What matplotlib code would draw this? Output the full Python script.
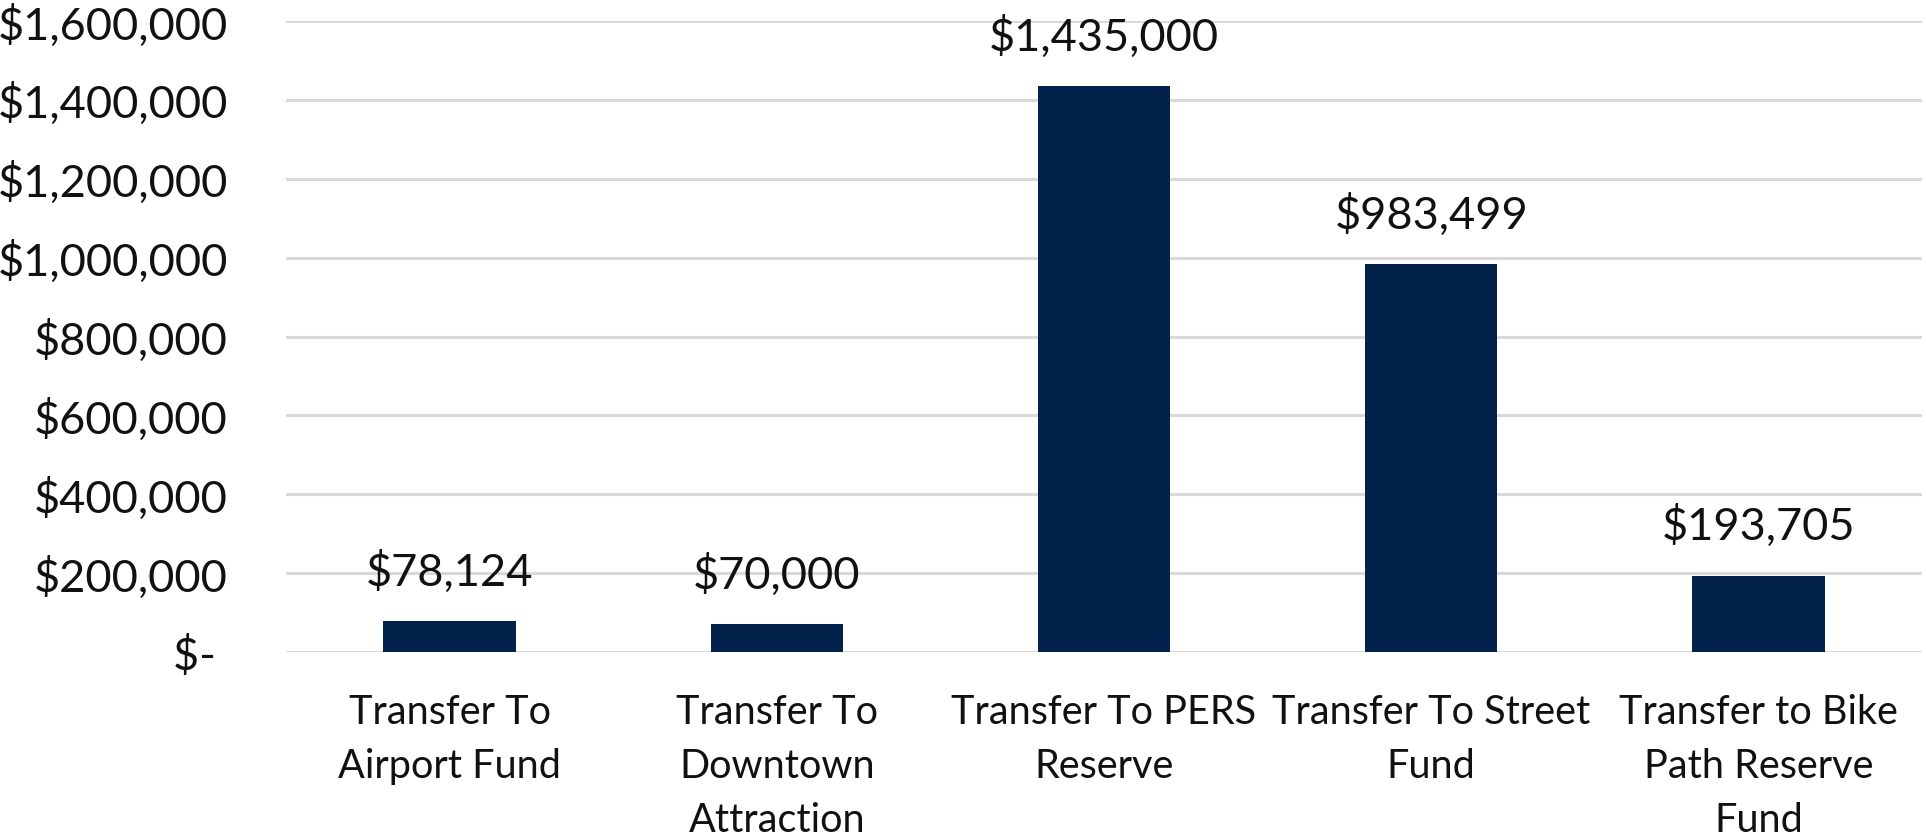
import matplotlib
matplotlib.use("Agg")
import matplotlib.pyplot as plt
from matplotlib.ticker import FixedLocator

categories = [
    "Transfer To\nAirport Fund",
    "Transfer To\nDowntown\nAttraction",
    "Transfer To PERS\nReserve",
    "Transfer To Street\nFund",
    "Transfer to Bike\nPath Reserve\nFund",
]
values = [78124, 70000, 1435000, 983499, 193705]
value_labels = ["$78,124", "$70,000", "$1,435,000", "$983,499", "$193,705"]
y_ticks = [0, 200000, 400000, 600000, 800000, 1000000, 1200000, 1400000, 1600000]
y_tick_labels = ["$- ", "$200,000", "$400,000", "$600,000", "$800,000",
                 "$1,000,000", "$1,200,000", "$1,400,000", "$1,600,000"]

plt.rcParams['font.family'] = ['Lato', 'DejaVu Sans']

fig = plt.figure(figsize=(19.26, 8.37), dpi=100)
ax = fig.add_axes([286/1926, (837-653)/837, (1922-286)/1926, (653-22)/837])

x = list(range(len(categories)))
bars = ax.bar(x, values, width=0.405, color="#02224B", zorder=3)

ax.set_xlim(-0.5, len(categories) - 0.5)
ax.set_ylim(0, 1600000)
ax.yaxis.set_major_locator(FixedLocator(y_ticks))
ax.set_yticklabels(y_tick_labels, fontsize=32.5, color="#111111")
ax.set_xticks(x)
ax.set_xticklabels(categories, fontsize=28.5, color="#111111", linespacing=1.57)

ax.grid(axis='y', color="#d9d9d9", linewidth=2.2, zorder=0)
ax.set_axisbelow(True)
for s in ax.spines.values():
    s.set_visible(False)
ax.tick_params(axis='both', length=0)
ax.tick_params(axis='y', pad=42)
ax.tick_params(axis='x', pad=29.5)

for xi, v, lab in zip(x, values, value_labels):
    ax.annotate(lab, (xi, v), xytext=(0, 36), textcoords='offset points',
                ha='center', va='center', fontsize=32.5, color="#111111")

fig.savefig("out.png", dpi=100)
